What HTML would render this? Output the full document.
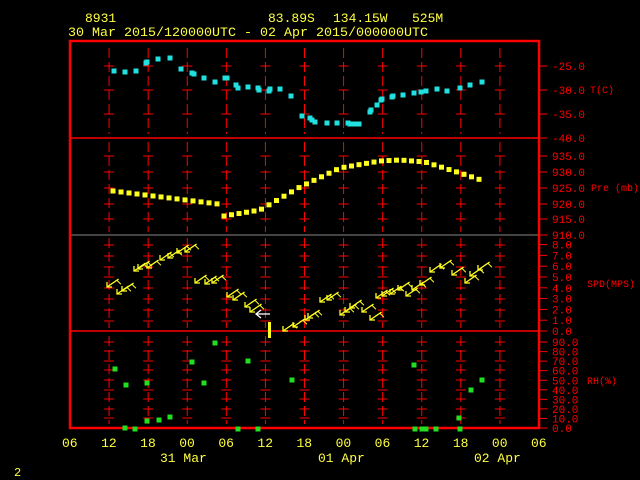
<!DOCTYPE html><html><head><style>body{margin:0;background:#000}svg{display:block}text{font-family:"Liberation Mono",monospace}</style></head><body>
<svg id="s" width="640" height="480" xmlns="http://www.w3.org/2000/svg">
<rect width="640" height="480" fill="#000"/>
<g fill="#ffff40">
<text x="85" y="22" font-size="13">8931</text>
<text x="268" y="22" font-size="13">83.89S</text>
<text x="333" y="22" font-size="13">134.15W</text>
<text x="412" y="22" font-size="13">525M</text>
<text x="68" y="36" font-size="13" textLength="360" lengthAdjust="spacingAndGlyphs">30 Mar 2015/120000UTC - 02 Apr 2015/000000UTC</text>
</g>
<text x="14" y="476" fill="#ffff40" font-size="12">2</text>
</svg>
<script>
const s=document.getElementById('s');const NS='http://www.w3.org/2000/svg';
function e(t,a,txt){const n=document.createElementNS(NS,t);for(const k in a)n.setAttribute(k,a[k]);if(txt)n.textContent=txt;s.appendChild(n);return n;}
const L=70,R=539,dx=(R-L)/12;
e('line',{x1:L,y1:138,x2:R,y2:138,stroke:'#f00','stroke-width':1.5});
e('line',{x1:L,y1:235,x2:R,y2:235,stroke:'#888','stroke-width':1});
e('line',{x1:L,y1:331,x2:R,y2:331,stroke:'#f00','stroke-width':1.5});
const panels=[[48,134,[66,90,114]],[142,232,[156,172,188,204,219]],[238,328,[245,256,267,277,288,299,310,321]],[336,424,[342,351,361,370,380,390,399,409,418]]];
for(let i=1;i<12;i++){const x=L+i*dx;
 for(const p of panels){e('line',{x1:x,y1:p[0],x2:x,y2:p[1],stroke:'#f00','stroke-width':1,'stroke-dasharray':'10,4'});
  for(const y of p[2])e('line',{x1:x-5,y1:y,x2:x+5,y2:y,stroke:'#f00','stroke-width':1});}}
e('rect',{x:L,y:41,width:R-L,height:387,fill:'none',stroke:'#f00','stroke-width':2.5});
function rl(y,t){e('line',{x1:R,y1:y,x2:R+8,y2:y,stroke:'#f00'});e('text',{x:552,y:y+4,fill:'#f00','font-size':11},t);}
[[66,'-25.0'],[90,'-30.0'],[114,'-35.0'],[138,'-40.0'],[156,'935.0'],[172,'930.0'],[188,'925.0'],[204,'920.0'],[219,'915.0'],[235,'910.0']].forEach(a=>rl(a[0],a[1]));
for(let v=8;v>=0;v--)rl(331-v*10.8,v+'.0');
for(let v=90;v>=0;v-=10)rl(428-v*0.955,v+'.0');
[[590,93,'T(C)'],[591,191,'Pre (mb)'],[587,287,'SPD(MPS)'],[587,384,'RH(%)']].forEach(a=>e('text',{x:a[0],y:a[1],fill:'#f00','font-size':10,textLength:a[2].length*6,lengthAdjust:'spacingAndGlyphs'},a[2]));
const tl=['06','12','18','00','06','12','18','00','06','12','18','00','06'];
tl.forEach((t,i)=>e('text',{x:L+i*dx-8,y:447,fill:'#ffff40','font-size':13},t));
[[160,'31 Mar'],[318,'01 Apr'],[474,'02 Apr']].forEach(a=>e('text',{x:a[0],y:462,fill:'#ffff40','font-size':13},a[1]));
[[114,71],[125,72],[136,71],[146,63],[147,62],[158,59],[170,58],[181,69],[192,73],[194,74],[204,78],[215,82],[225,78],[227,78],[236,85],[238,88],[248,87],[258,88],[259,90],[269,91],[270,89],[280,89],[291,96],[302,116],[310,118],[312,120],[315,122],[327,123],[337,123],[348,123],[350,124],[354,124],[357,124],[359,124],[370,112],[371,110],[377,105],[381,100],[382,99],[392,97],[393,96],[403,95],[414,93],[421,92],[426,91],[437,89],[447,91],[460,88],[470,85],[482,82]].forEach(p=>e('rect',{x:p[0]-2.5,y:p[1]-2.5,width:5,height:5,fill:'#20e0e0'}));
function pr(x){if(x<224)return 191+(x-113)*(12/97);
 const pts=[[224,216],[260,210],[300,187],[340,168],[380,161],[400,160],[425,162],[460,173],[484,181]];
 for(let i=0;i<pts.length-1;i++)if(x<=pts[i+1][0]){const a=pts[i],b=pts[i+1];return a[1]+(b[1]-a[1])*(x-a[0])/(b[0]-a[0]);}return 181;}
for(let x=113;x<=218;x+=8)e('rect',{x:x-2.5,y:pr(x)-2.5,width:5,height:5,fill:'#ffff20'});
for(let x=224;x<=484;x+=7.5)e('rect',{x:x-2.5,y:pr(x)-2.5,width:5,height:5,fill:'#ffff20'});
const w=[[107,287],[117,294],[122,291],[134,271],[138,269],[147,268],[160,260],[168,258],[177,253],[185,252],[195,283],[205,284],[212,283],[227,297],[233,300],[245,307],[250,312],[283,331],[293,327],[305,320],[308,318],[320,302],[327,300],[340,315],[345,312],[350,308],[362,312],[370,320],[376,298],[382,296],[390,294],[398,290],[406,296],[412,290],[420,285],[430,272],[440,268],[452,275],[465,283],[470,276],[478,270]];
w.forEach((p,i)=>{const ang=-0.6;const c=Math.cos(ang),sn=Math.sin(ang);const x2=p[0]+14*c,y2=p[1]+14*sn;
 e('line',{x1:p[0],y1:p[1],x2:x2,y2:y2,stroke:'#ffff20','stroke-width':1.3});
 e('polyline',{points:`${p[0]+5},${p[1]} ${p[0]},${p[1]} ${p[0]},${p[1]-5}`,fill:'none',stroke:'#ffff20','stroke-width':1.3});
 e('line',{x1:x2-2*c,y1:y2-2*sn,x2:x2-2*c+4,y2:y2-2*sn+4,stroke:'#ffff20','stroke-width':1});});
e('line',{x1:256,y1:314,x2:270,y2:314,stroke:'#fff','stroke-width':1.3});
e('polyline',{points:'261,310 256,314 261,318',fill:'none',stroke:'#fff','stroke-width':1.3});
e('rect',{x:268,y:322,width:3,height:16,fill:'#ffff20'});
[[115,369],[126,385],[147,383],[192,362],[204,383],[215,343],[248,361],[292,380],[414,365],[471,390],[482,380],[147,421],[159,420],[170,417],[459,418],[125,428],[135,429],[238,429],[258,429],[415,429],[422,429],[426,429],[436,429],[460,429]].forEach(p=>e('rect',{x:p[0]-2.5,y:p[1]-2.5,width:5,height:5,fill:'#20e020'}));
</script>
</body></html>
